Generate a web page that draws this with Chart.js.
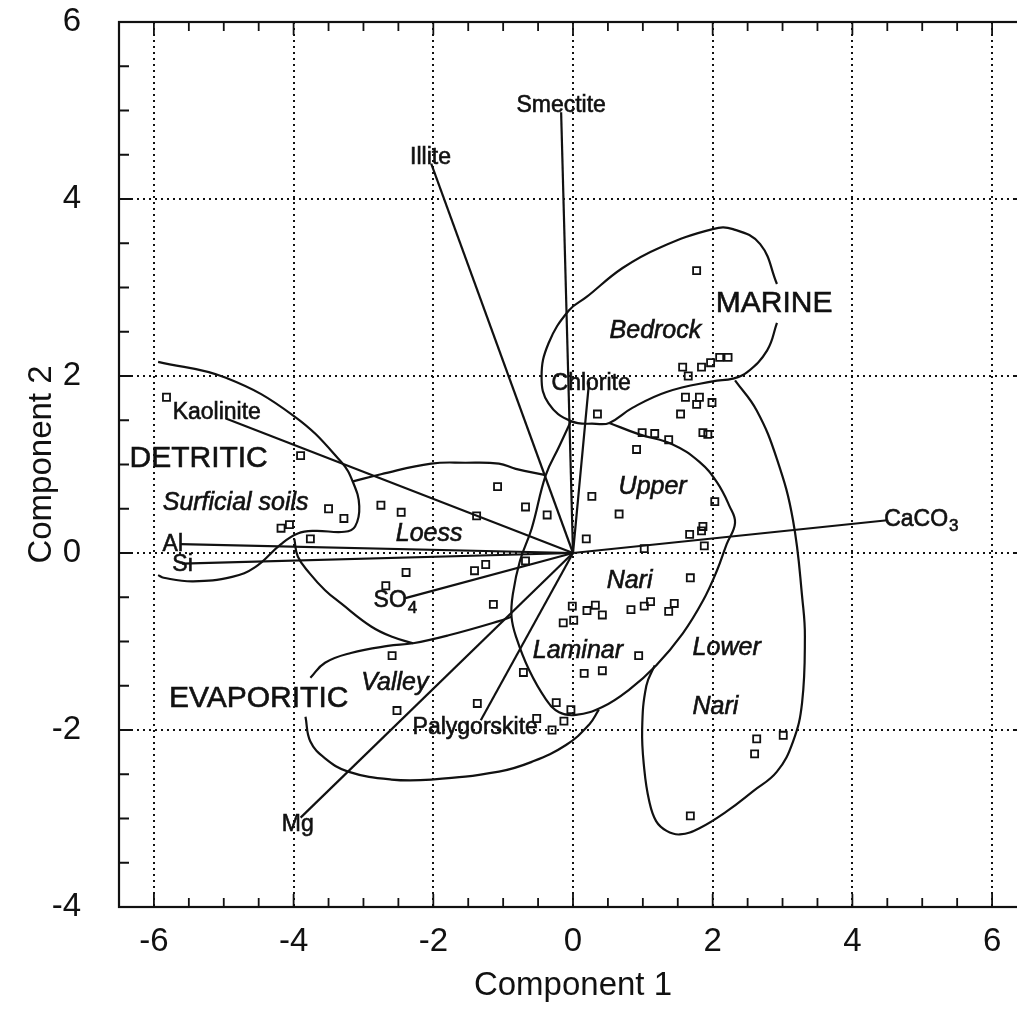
<!DOCTYPE html>
<html><head><meta charset="utf-8">
<style>
html,body{margin:0;padding:0;background:#fff;overflow:hidden;width:1017px;height:1019px}
#wrap{position:relative;width:1040px;height:1019px}
canvas{display:block}
</style>
<script src="https://cdn.jsdelivr.net/npm/chart.js@4.4.0/dist/chart.umd.min.js"></script>
</head><body><div id="wrap"><canvas id="c" width="1040" height="1019"></canvas></div>
<script>
// ---------- axis ranges & tick labels ----------
const X_MIN = -6.5, X_MAX = 6.5, Y_MIN = -4, Y_MAX = 6;
const xMajor = [-6, -4, -2, 0, 2, 4, 6];
const xTickLabels = ['-6', '-4', '-2', '0', '2', '4', '6'];
const yMajor = [-4, -2, 0, 2, 4, 6];
const yTickLabels = ['-4', '-2', '0', '2', '4', '6'];

// ---------- sample scores (open squares) ----------
const sampleX = [-5.82,-3.90,-3.50,-3.28,-4.18,-4.06,-3.76,-2.75,-2.46,-1.08,-1.38,-0.68,-0.37,-0.68,-1.41,-1.25,-2.39,-2.68,-1.14,
  1.77,1.57,1.65,1.84,1.97,2.10,2.22,1.61,1.81,1.77,1.99,1.54,0.99,1.17,1.37,1.86,1.93,0.35,0.91,2.03,0.27,0.66,0.19,1.67,1.84,1.86,1.88,1.02,1.68,
  -0.01,0.20,0.32,0.42,0.83,1.02,1.11,1.37,1.45,-0.14,0.01,0.94,-0.71,0.16,0.42,-1.37,-0.24,-0.03,-0.52,-0.13,-0.30,-2.59,-2.52,2.63,3.01,2.60,1.68];
const sampleY = [1.76,1.10,0.50,0.39,0.28,0.32,0.16,0.54,0.46,0.75,0.42,0.52,0.43,-0.09,-0.20,-0.13,-0.22,-0.37,-0.58,
  3.19,2.10,2.00,2.10,2.15,2.21,2.21,1.76,1.76,1.68,1.70,1.57,1.36,1.35,1.28,1.36,1.34,1.57,1.17,0.58,0.64,0.44,0.16,0.21,0.25,0.30,0.08,0.05,-0.28,
  -0.60,-0.65,-0.59,-0.70,-0.64,-0.60,-0.55,-0.66,-0.57,-0.79,-0.76,-1.16,-1.35,-1.36,-1.33,-1.70,-1.69,-1.77,-1.87,-1.90,-2.00,-1.16,-1.78,-2.10,-2.06,-2.27,-2.97];

// ---------- variable loadings (vectors from origin) ----------
const vectorNames = ['Smectite','Illite','Chlorite','Kaolinite','Al','Si','SO4','Mg','Palygorskite','CaCO3'];
const vectorX = [-0.17,-2.03, 0.23,-4.97,-5.62,-5.60,-2.40,-3.90,-1.32, 4.50];
const vectorY = [ 4.98, 4.40, 1.93, 1.52, 0.10,-0.12,-0.51,-2.99,-1.89, 0.37];

// ---------- group outlines ----------
const detriticX = [-5.94,-4.97,-4.00,-3.32,-3.15,-3.06,-3.12,-3.27,-3.70,-3.94,-4.18,-4.55,-4.88,-5.44,-5.86,-5.94];
const detriticY = [ 2.16, 1.98, 1.55, 1.03, 0.80, 0.53, 0.30, 0.24, 0.25, 0.22, 0.10,-0.16,-0.27,-0.32,-0.28,-0.25];
const loessTopX = [-3.15,-2.75,-2.03,-1.54,-1.06,-0.82,-0.39];
const loessTopY = [ 0.81, 0.89, 1.01, 1.02, 1.01, 0.95, 0.88];
const loessBottomX = [-3.99,-3.94,-3.77,-3.55,-3.32,-2.89,-2.58,-2.29];
const loessBottomY = [ 0.16,-0.04,-0.23,-0.42,-0.57,-0.83,-0.95,-1.02];
const valleyTopX = [-3.76,-3.55,-3.18,-2.65,-2.29,-1.78,-1.06,-0.88];
const valleyTopY = [-1.41,-1.24,-1.13,-1.05,-1.02,-0.93,-0.77,-0.72];
const valleyBottomX = [-3.83,-3.76,-3.55,-3.22,-2.60,-2.03,-1.06,-0.59,-0.10, 0.23, 0.37];
const valleyBottomY = [-1.85,-2.13,-2.32,-2.47,-2.56,-2.56,-2.47,-2.36,-2.17,-1.94,-1.77];
const nariX = [-0.03,-0.20,-0.39,-0.59,-0.76,-0.86,-0.88,-0.81,-0.63,-0.39,-0.20, 0.04, 0.42, 0.81, 1.19, 1.57, 1.86, 2.06, 2.20, 2.32, 2.24, 2.06, 1.81, 1.42, 0.95, 0.52];
const nariY = [ 1.49, 1.20, 0.88, 0.28,-0.09,-0.46,-0.72,-0.96,-1.32,-1.65,-1.80,-1.83,-1.74,-1.54,-1.27,-0.91,-0.54,-0.20, 0.10, 0.34, 0.53, 0.80, 1.03, 1.23, 1.34, 1.47];
const bedrockX = [2.92,2.78,2.49,2.29,2.00,1.34,0.85,0.52,0.33,-0.03,-0.35,-0.45,-0.35,-0.06,0.19,0.71,1.24,2.00,2.29,2.68,2.92];
const bedrockY = [2.60,2.29,2.04,1.97,1.94,1.82,1.64,1.47,1.46, 1.49, 1.69, 1.99, 2.37, 2.74,2.89,3.22,3.45,3.66,3.66,3.49,3.04];
const lowerNariX = [2.32,2.63,2.92,3.15,3.29,3.32,3.28,3.15,2.92,2.58,2.20,1.81,1.53,1.34,1.19,1.09,1.02,0.99,1.05,1.17];
const lowerNariY = [1.95,1.61,1.06,0.37,-0.57,-0.94,-1.69,-2.13,-2.47,-2.69,-2.92,-3.11,-3.18,-3.14,-3.03,-2.80,-2.44,-1.99,-1.50,-1.27];

// ---------- text annotations (anchor in data units) ----------
const FAM = '"Liberation Sans", Arial, Helvetica, sans-serif';
const vecFont = '23px ' + FAM, groupFont = '30px ' + FAM, faciesFont = 'italic 25px ' + FAM;
const annotations = [
  {t:'Smectite', x:-0.17, y:5.05, font:vecFont},
  {t:'Illite', x:-2.04, y:4.47, font:vecFont},
  {t:'Chlorite', x:0.26, y:1.91, font:vecFont},
  {t:'Kaolinite', x:-5.10, y:1.59, font:vecFont},
  {t:'Al', x:-5.73, y:0.09, font:vecFont},
  {t:'Si', x:-5.59, y:-0.13, font:vecFont},
  {t:'SO', sub:'4', x:-2.55, y:-0.54, font:vecFont},
  {t:'Mg', x:-3.94, y:-3.07, font:vecFont},
  {t:'Palygorskite', x:-1.40, y:-1.97, font:vecFont},
  {t:'CaCO', sub:'3', x:4.98, y:0.38, font:vecFont},
  {t:'DETRITIC', x:-5.36, y:1.06, font:groupFont},
  {t:'MARINE', x:2.88, y:2.82, font:groupFont},
  {t:'EVAPORITIC', x:-4.50, y:-1.65, font:groupFont},
  {t:'Surficial soils', x:-4.83, y:0.57, font:faciesFont},
  {t:'Loess', x:-2.06, y:0.21, font:faciesFont},
  {t:'Bedrock', x:1.18, y:2.51, font:faciesFont},
  {t:'Upper', x:1.14, y:0.74, font:faciesFont},
  {t:'Nari', x:0.81, y:-0.32, font:faciesFont},
  {t:'Laminar', x:0.07, y:-1.11, font:faciesFont},
  {t:'Lower', x:2.20, y:-1.07, font:faciesFont},
  {t:'Nari', x:2.04, y:-1.74, font:faciesFont},
  {t:'Valley', x:-2.55, y:-1.47, font:faciesFont}
];

// ---------- helpers ----------
const zip = (xs, ys) => xs.map((v, i) => ({x: v, y: ys[i]}));
const isMajor = v => Math.abs(v / 2 - Math.round(v / 2)) < 1e-6;
const INK = '#111';

const curveDS = (xs, ys) => ({
  type: 'line', data: zip(xs, ys), showLine: true, fill: false,
  borderColor: INK, borderWidth: 2.2, pointRadius: 0, tension: 0.42, order: 2
});
const vectorDS = vectorNames.map((n, i) => ({
  type: 'line', label: n, data: [{x: 0, y: 0}, {x: vectorX[i], y: vectorY[i]}],
  showLine: true, fill: false, borderColor: INK, borderWidth: 2.2, pointRadius: 0, tension: 0, order: 2
}));

const datasets = [
  {type: 'scatter', label: 'samples', data: zip(sampleX, sampleY), pointStyle: 'rect', pointRadius: 5,
   borderWidth: 1.8, borderColor: INK, backgroundColor: 'rgba(255,255,255,0)', order: 1},
  ...vectorDS,
  curveDS(detriticX, detriticY), curveDS(loessTopX, loessTopY), curveDS(loessBottomX, loessBottomY),
  curveDS(valleyTopX, valleyTopY), curveDS(valleyBottomX, valleyBottomY), curveDS(nariX, nariY),
  curveDS(bedrockX, bedrockY), curveDS(lowerNariX, lowerNariY)
];

// frame with inward ticks
const framePlugin = {
  id: 'frame',
  afterDatasetsDraw(chart) {
    const {ctx, chartArea: a, scales: {x, y}} = chart;
    ctx.save();
    ctx.strokeStyle = INK;
    ctx.lineWidth = 2.2;
    ctx.strokeRect(a.left, a.top, a.right - a.left, a.bottom - a.top);
    ctx.lineWidth = 1.8;
    ctx.beginPath();
    x.ticks.forEach(t => {
      const v = t.value;
      if (v <= x.min + 1e-9 || v >= x.max - 1e-9) return;
      const px = x.getPixelForValue(v);
      const len = isMajor(v) ? 13 : 9;
      ctx.moveTo(px, a.bottom); ctx.lineTo(px, a.bottom - len);
      ctx.moveTo(px, a.top); ctx.lineTo(px, a.top + len);
    });
    y.ticks.forEach(t => {
      const v = t.value;
      if (v <= y.min + 1e-9 || v >= y.max - 1e-9) return;
      const py = y.getPixelForValue(v);
      const len = isMajor(v) ? 13 : 10;
      ctx.moveTo(a.left, py); ctx.lineTo(a.left + len, py);
      ctx.moveTo(a.right, py); ctx.lineTo(a.right - len, py);
    });
    ctx.stroke();
    ctx.restore();
  }
};

const textPlugin = {
  id: 'texts',
  afterDatasetsDraw(chart) {
    const {ctx, scales: {x, y}} = chart;
    ctx.save();
    ctx.fillStyle = INK;
    ctx.strokeStyle = INK;
    ctx.lineWidth = 0.6;
    ctx.textBaseline = 'middle';
    ctx.textAlign = 'left';
    annotations.forEach(a => {
      const cx = x.getPixelForValue(a.x), cy = y.getPixelForValue(a.y);
      ctx.font = a.font;
      const w = ctx.measureText(a.t).width;
      let ws = 0, subFont = '';
      const size = parseFloat(a.font.match(/(\d+(\.\d+)?)px/)[1]);
      if (a.sub) {
        subFont = a.font.replace(/\d+(\.\d+)?px/, Math.round(size * 0.72) + 'px');
        ctx.font = subFont; ws = ctx.measureText(a.sub).width; ctx.font = a.font;
      }
      const x0 = cx - (w + ws) / 2;
      ctx.fillText(a.t, x0, cy);
      ctx.strokeText(a.t, x0, cy);
      if (a.sub) {
        ctx.font = subFont;
        ctx.fillText(a.sub, x0 + w + 1, cy + size * 0.32);
        ctx.strokeText(a.sub, x0 + w + 1, cy + size * 0.32);
      }
    });
    ctx.restore();
  }
};

new Chart(document.getElementById('c'), {
  type: 'scatter',
  data: {datasets},
  options: {
    responsive: false, animation: false, devicePixelRatio: 1, events: [],
    layout: {padding: {left: 0, top: 22, right: 13, bottom: 0}},
    plugins: {legend: {display: false}, tooltip: {enabled: false}},
    scales: {
      x: {
        type: 'linear', position: 'bottom', min: X_MIN, max: X_MAX,
        afterFit: s => { s.height = 112; s.paddingLeft = 0; s.paddingRight = 0; },
        ticks: {
          stepSize: 0.5, maxTicksLimit: 100, autoSkip: false, maxRotation: 0, padding: 15,
          color: INK, font: {family: FAM, size: 33},
          callback: v => { const i = xMajor.findIndex(m => Math.abs(m - v) < 1e-6); return i >= 0 ? xTickLabels[i] : ''; }
        },
        grid: {
          drawTicks: false, lineWidth: 2,
          color: c => (c.tick && isMajor(c.tick.value) && c.tick.value > X_MIN && c.tick.value < X_MAX) ? INK : 'rgba(0,0,0,0)'
        },
        border: {display: false, dash: [2, 4]},
        title: {display: true, text: 'Component 1', color: INK, font: {family: FAM, size: 33}, padding: {top: 0, bottom: 13}}
      },
      y: {
        type: 'linear', position: 'left', min: Y_MIN, max: Y_MAX,
        afterFit: s => { s.width = 119; s.paddingTop = 0; s.paddingBottom = 0; },
        ticks: {
          stepSize: 0.5, maxTicksLimit: 100, autoSkip: false, padding: 38,
          color: INK, font: {family: FAM, size: 33},
          callback: v => { const i = yMajor.findIndex(m => Math.abs(m - v) < 1e-6); return i >= 0 ? yTickLabels[i] : ''; }
        },
        grid: {
          drawTicks: false, lineWidth: 2,
          color: c => (c.tick && isMajor(c.tick.value) && c.tick.value > Y_MIN && c.tick.value < Y_MAX) ? INK : 'rgba(0,0,0,0)'
        },
        border: {display: false, dash: [2, 4]},
        title: {display: true, text: 'Component 2', color: INK, font: {family: FAM, size: 33}, padding: {top: 22, bottom: 0}}
      }
    }
  },
  plugins: [framePlugin, textPlugin]
});
</script>
</body></html>
